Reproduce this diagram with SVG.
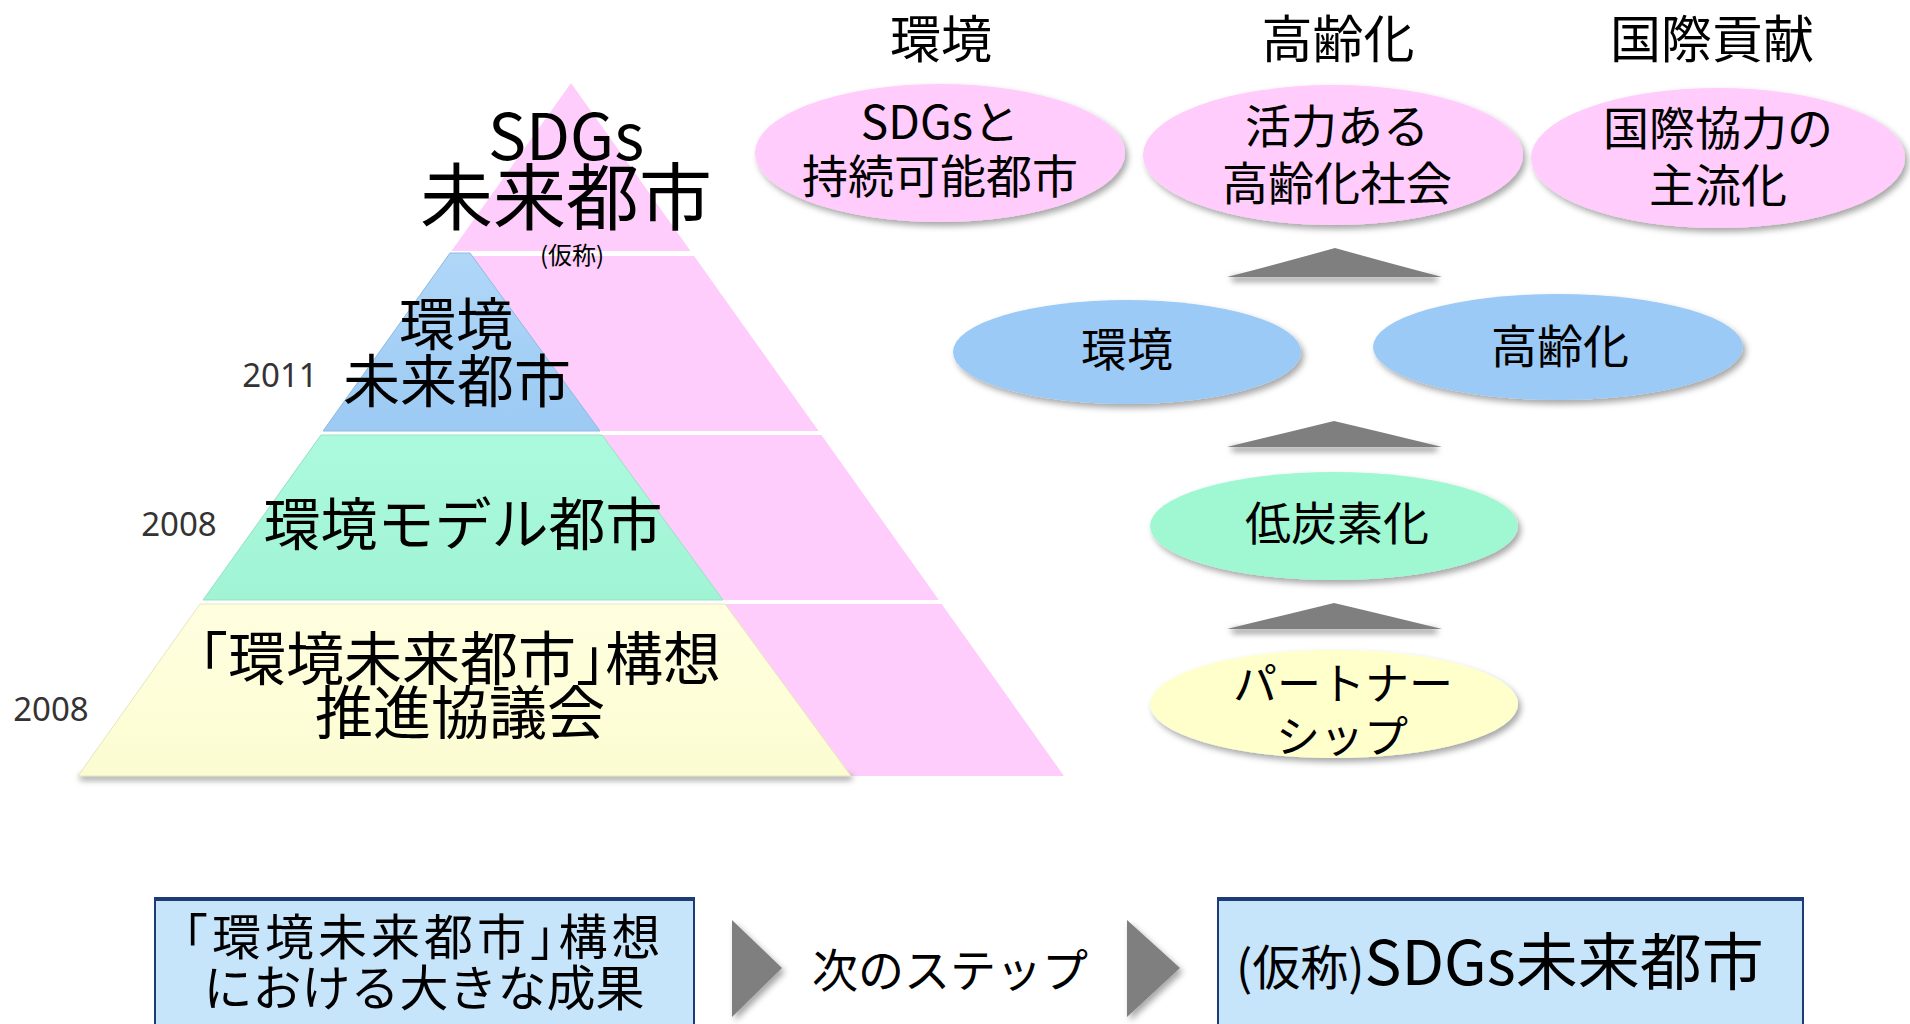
<svg xmlns="http://www.w3.org/2000/svg" width="1910" height="1024" viewBox="0 0 1910 1024">
  <style>
    text { font-family: 'Noto Sans CJK JP', 'Noto Sans', sans-serif; fill: #000; text-anchor: middle; }
    .yr { font-family: 'Noto Sans', 'Open Sans', sans-serif; font-size: 33px; fill: #333; }
    .ell { font-size: 46px; }
    .hd { font-size: 51px; }
    .halt { font-feature-settings: 'halt'; }
    .box { fill: #C6E5FB; stroke: #1F3B77; stroke-width: 2; }
    .boxtop { stroke: #1F3B77; stroke-width: 4; }
    .arrow { fill: #7F7F7F; }
  </style>
  <defs>
    <filter id="sh" x="-10%" y="-15%" width="125%" height="140%">
      <feDropShadow dx="3" dy="4" stdDeviation="3" flood-color="#000" flood-opacity="0.35"/>
    </filter>
    <filter id="blur" x="-20%" y="-200%" width="140%" height="500%">
      <feGaussianBlur stdDeviation="3"/>
    </filter>
    <linearGradient id="gBlue" x1="0" y1="0" x2="0" y2="1">
      <stop offset="0" stop-color="#B0D7F8"/>
      <stop offset="1" stop-color="#9CCAF3"/>
    </linearGradient>
    <linearGradient id="gGreen" x1="0" y1="0" x2="0" y2="1">
      <stop offset="0" stop-color="#ACFADE"/>
      <stop offset="1" stop-color="#A0F4D4"/>
    </linearGradient>
    <linearGradient id="gYellow" x1="0" y1="0" x2="0" y2="1">
      <stop offset="0" stop-color="#FFFFE0"/>
      <stop offset="1" stop-color="#FCFCD2"/>
    </linearGradient>
  </defs>

  <!-- background pink pyramid -->
  <g id="pyramid-back">
    <polygon points="571,83 1064,776 78,776" fill="#FECDFB"/>
    <rect x="60" y="251" width="1020" height="5" fill="#fff"/>
    <rect x="60" y="431" width="1020" height="4" fill="#fff"/>
    <rect x="60" y="600" width="1020" height="4" fill="#fff"/>
  </g>

  <!-- base shadow -->
  <rect x="80" y="775" width="772" height="5" fill="#777" filter="url(#blur)" opacity="0.8"/>

  <g id="band-blue">
    <polygon points="450,253 470,253 600,431 323,431" fill="url(#gBlue)" stroke="#8FBBE0" stroke-width="1"/>
    <text x="456" y="345" font-size="57">環境</text>
    <text x="457" y="402" font-size="57">未来都市</text>
  </g>
  <g id="band-green">
    <polygon points="321,435 602,435 723,600 203,600" fill="url(#gGreen)" stroke="#94E3C4" stroke-width="1"/>
    <text x="463" y="545" font-size="57">環境モデル都市</text>
  </g>
  <g id="band-yellow">
    <polygon points="200,604 725,604 851,776 78,776" fill="url(#gYellow)" stroke="#E6E6BE" stroke-width="1"/>
    <text class="halt" x="460" y="680" font-size="58">「環境未来都市」構想</text>
    <text x="460" y="734" font-size="58">推進協議会</text>
  </g>

  <g id="top-label">
    <text x="566" y="160" font-size="64">SDGs</text>
    <text x="566" y="224" font-size="73">未来都市</text>
    <text x="572" y="264" font-size="24">(仮称)</text>
  </g>

  <g id="years">
    <text class="yr" x="280" y="387">2011</text>
    <text class="yr" x="179" y="536">2008</text>
    <text class="yr" x="51" y="721">2008</text>
  </g>

  <g id="headings">
    <text class="hd" x="941" y="58">環境</text>
    <text class="hd" x="1338" y="58">高齢化</text>
    <text class="hd" x="1712" y="58">国際貢献</text>
  </g>

  <g id="e-sdgs">
    <ellipse cx="940" cy="153" rx="185" ry="69" fill="#FFCCFB" filter="url(#sh)"/>
    <text class="ell" x="940" y="139">SDGsと</text>
    <text class="ell" x="940" y="193">持続可能都市</text>
  </g>
  <g id="e-aging">
    <ellipse cx="1333" cy="155" rx="190" ry="70" fill="#FFCCFB" filter="url(#sh)"/>
    <text class="ell" x="1337" y="143">活力ある</text>
    <text class="ell" x="1337" y="200">高齢化社会</text>
  </g>
  <g id="e-intl">
    <ellipse cx="1718" cy="158" rx="187" ry="70" fill="#FFCCFB" filter="url(#sh)"/>
    <text class="ell" x="1718" y="145">国際協力の</text>
    <text class="ell" x="1718" y="202">主流化</text>
  </g>

  <g id="e-env">
    <ellipse cx="1127" cy="352" rx="174" ry="52" fill="#9BCAF7" filter="url(#sh)"/>
    <text class="ell" x="1127" y="366">環境</text>
  </g>
  <g id="e-age">
    <ellipse cx="1558" cy="347" rx="185" ry="53" fill="#9BCAF7" filter="url(#sh)"/>
    <text class="ell" x="1560" y="363">高齢化</text>
  </g>

  <g id="e-lowcarbon">
    <ellipse cx="1334" cy="526" rx="184" ry="54" fill="#9FF8D1" filter="url(#sh)"/>
    <text class="ell" x="1337" y="540">低炭素化</text>
  </g>
  <g id="e-partner">
    <ellipse cx="1334" cy="704" rx="184" ry="54" fill="#FFFFCC" filter="url(#sh)"/>
    <text x="1343" y="700" font-size="44">パートナー</text>
    <text x="1342" y="753" font-size="44">シップ</text>
  </g>

  <g id="connectors">
    <rect x="1232" y="277" width="205" height="4" fill="#777" filter="url(#blur)"/>
    <path class="arrow" d="M1227,277 Q1285,262 1335,248 Q1385,262 1442,277 Z"/>
    <rect x="1232" y="447" width="205" height="4" fill="#777" filter="url(#blur)"/>
    <path class="arrow" d="M1227,447 Q1285,433 1334,421 Q1385,433 1442,447 Z"/>
    <rect x="1232" y="629" width="205" height="4" fill="#777" filter="url(#blur)"/>
    <path class="arrow" d="M1227,629 Q1285,615 1334,603 Q1385,615 1442,629 Z"/>
    <polygon class="arrow" points="732,920 782,968 732,1017" filter="url(#sh)"/>
    <polygon class="arrow" points="1127,920 1180,968 1127,1017" filter="url(#sh)"/>
  </g>

  <g id="box-now">
    <rect class="box" x="155" y="899" width="539" height="140"/>
    <line class="boxtop" x1="154" y1="899" x2="695" y2="899"/>
    <text class="halt" x="424" y="955" font-size="49" letter-spacing="4">「環境未来都市」構想</text>
    <text x="424" y="1006" font-size="49">における大きな成果</text>
  </g>
  <text id="next-step" x="950" y="987" font-size="46">次のステップ</text>
  <g id="box-next">
    <rect class="box" x="1218" y="899" width="585" height="140"/>
    <line class="boxtop" x1="1217" y1="899" x2="1804" y2="899"/>
    <text x="1236" y="985" style="text-anchor:start"><tspan font-size="48">(仮称)</tspan><tspan font-size="62">SDGs未来都市</tspan></text>
  </g>
</svg>
